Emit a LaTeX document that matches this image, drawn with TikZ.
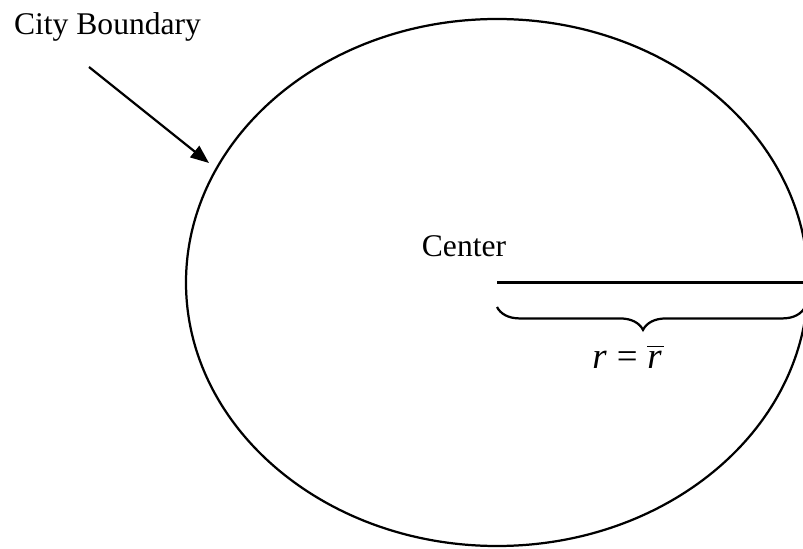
\documentclass[tikz,border=0pt]{standalone}
\usepackage{fontspec}
\setmainfont{Liberation Serif}
\usetikzlibrary{arrows.meta,decorations.pathreplacing}
\begin{document}
\begin{tikzpicture}[x=0.38pt,y=-0.38pt,line width=0.85pt,
  lbl/.style={font=\fontsize{12}{14}\selectfont,inner sep=0pt,anchor=base},
  eqlbl/.style={font=\fontsize{14}{16}\selectfont,inner sep=0pt,anchor=base},
  bracestyle/.style={decorate,decoration={brace,mirror,amplitude=8.7pt,aspect=0.474}},
  pointer/.style={-{Triangle[length=7pt,width=5.5pt]}}]
\useasboundingbox (0,0) rectangle (803,549);
\clip (0,0) rectangle (803,549);
% boundary
\coordinate (c) at (497,282.5);
\draw (c) ellipse [x radius=311, y radius=263.5];
% radius line
\coordinate (redge) at (810,282.5);
\draw (c) -- (redge);
% brace
\coordinate (b1) at (497,307);
\coordinate (b2) at (805,307);
\draw[bracestyle] (b1) -- (b2);
% labels
\node[lbl,anchor=base west] (city) at (13,35) {City Boundary};
\node[lbl] (center) at (464,257) {Center};
\node[eqlbl] (rlabel) at (628,368) {\textit{r}\hspace{0.27em}=\hspace{0.27em}$\overline{\hbox{\itshape r\kern0.05em}}$};
% arrow
\coordinate (a1) at (89,67);
\coordinate (a2) at (209,163);
\draw[pointer] (a1) -- (a2);
\end{tikzpicture}
\end{document}
